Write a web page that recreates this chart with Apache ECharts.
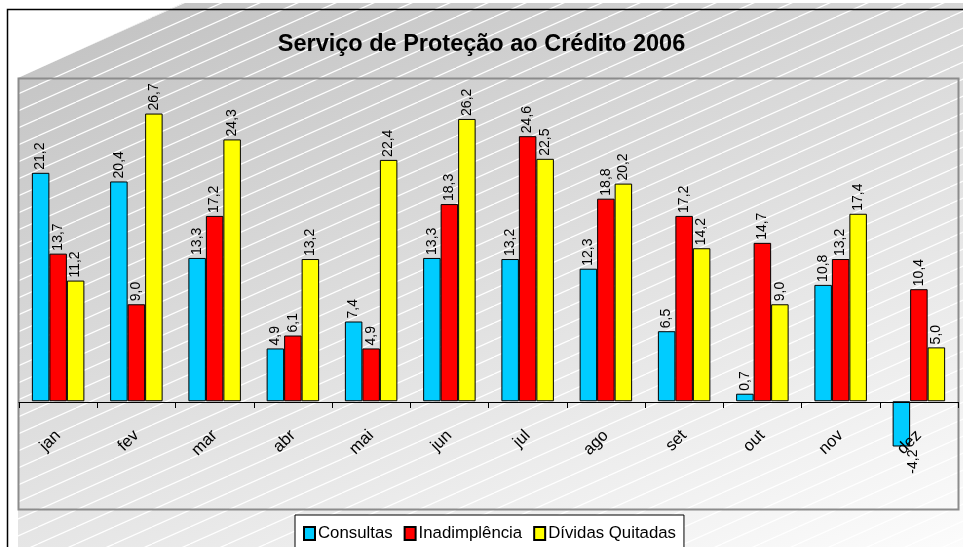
<!DOCTYPE html>
<html>
<head>
<meta charset="utf-8">
<script src="https://cdn.jsdelivr.net/npm/echarts@6/dist/echarts.min.js"></script>
<style>
  html, body { margin: 0; padding: 0; background: #fff; }
  #chart { width: 963px; height: 547px; }
</style>
</head>
<body>
<div id="chart"></div>
<script>
var months = ['jan', 'fev', 'mar', 'abr', 'mai', 'jun', 'jul', 'ago', 'set', 'out', 'nov', 'dez'];
var consultas = [21.2, 20.4, 13.3, 4.9, 7.4, 13.3, 13.2, 12.3, 6.5, 0.7, 10.8, -4.2];
var inadimplencia = [13.7, 9.0, 17.2, 6.1, 4.9, 18.3, 24.6, 18.8, 17.2, 14.7, 13.2, 10.4];
var dividas = [11.2, 26.7, 24.3, 13.2, 22.4, 26.2, 22.5, 20.2, 14.2, 9.0, 17.4, 5.0];
var seriesNames = ['Consultas', 'Inadimplência', 'Dívidas Quitadas'];
var seriesColors = ['#00ccff', '#ff0000', '#ffff00'];

var font = '"Liberation Sans", Arial, sans-serif';

// diagonal white stripes tile
var tile = document.createElement('canvas');
tile.width = 38;
tile.height = 17;
var tctx = tile.getContext('2d');
tctx.strokeStyle = '#ffffff';
tctx.lineWidth = 1.2;
[-38, 0, 38].forEach(function (dx) {
  tctx.beginPath();
  tctx.moveTo(dx, 17);
  tctx.lineTo(dx + 38, 0);
  tctx.stroke();
});

var backShape = [[18, 78], [183, 3], [963, 3], [963, 547], [18, 547]];

function toData(values) {
  return values.map(function (v) {
    if (v < 0) {
      return { value: v, label: { position: 'bottom', align: 'right', offset: [0, 12] } };
    }
    return v;
  });
}

function makeSeries(name, values, color) {
  return {
    name: name,
    type: 'bar',
    data: toData(values),
    barWidth: 17.5,
    barGap: '0%',
    itemStyle: { color: color, borderColor: '#000', borderWidth: 1 },
    label: {
      show: true,
      position: 'top',
      rotate: 90,
      align: 'left',
      verticalAlign: 'middle',
      distance: 3,
      fontFamily: font,
      fontSize: 14,
      color: '#000',
      formatter: function (p) { return p.value.toFixed(1).replace('.', ','); }
    }
  };
}

var chart = echarts.init(document.getElementById('chart'));
chart.setOption({
  animation: false,
  title: {
    text: 'Serviço de Proteção ao Crédito 2006',
    left: 'center',
    top: 33,
    padding: [0, 0, 0, 14],
    textStyle: { fontFamily: font, fontSize: 23.5, fontWeight: 'bold', color: '#000' }
  },
  legend: {
    data: seriesNames,
    left: 295,
    top: 515,
    padding: [10, 8, 10, 8],
    itemGap: 11,
    itemWidth: 11,
    itemHeight: 13,
    icon: 'rect',
    backgroundColor: '#fff',
    borderColor: '#000',
    borderWidth: 1,
    textStyle: { fontFamily: font, fontSize: 16.8, color: '#000', padding: [0, 0, 0, -2] }
  },
  grid: { left: 19, right: 5, top: 78, bottom: 38, outerBoundsMode: 'none' },
  xAxis: {
    type: 'category',
    data: months,
    z: 5,
    offset: -107,
    axisLine: { onZero: false, lineStyle: { color: '#000', width: 1 } },
    axisTick: { show: true, length: 6, lineStyle: { color: '#000' } },
    axisLabel: {
      rotate: 45,
      margin: 31,
      fontFamily: font,
      fontSize: 16.5,
      color: '#000'
    }
  },
  yAxis: {
    type: 'value',
    min: -10,
    max: 30,
    show: false,
    splitLine: { show: false }
  },
  graphic: [
    {
      type: 'polygon',
      z: -10,
      silent: true,
      shape: { points: backShape },
      style: {
        fill: {
          type: 'linear', x: 0, y: 0, x2: 284, y2: 829, global: true,
          colorStops: [{ offset: 0, color: '#c0c0c0' }, { offset: 1, color: '#ffffff' }]
        }
      }
    },
    {
      type: 'polygon',
      z: -9,
      silent: true,
      shape: { points: backShape },
      style: { fill: { image: tile, repeat: 'repeat' } }
    },
    {
      type: 'polyline',
      z: -8,
      silent: true,
      shape: { points: [[7.5, 547], [7.5, 9.5], [963, 9.5]] },
      style: { stroke: '#000', lineWidth: 1.5, fill: null }
    },
    {
      type: 'rect',
      z: -7,
      silent: true,
      shape: { x: 18.5, y: 78.5, width: 940, height: 431 },
      style: { stroke: '#8c8c8c', lineWidth: 2, fill: null }
    }
  ],
  series: [
    makeSeries(seriesNames[0], consultas, seriesColors[0]),
    makeSeries(seriesNames[1], inadimplencia, seriesColors[1]),
    makeSeries(seriesNames[2], dividas, seriesColors[2])
  ]
});
</script>
</body>
</html>
